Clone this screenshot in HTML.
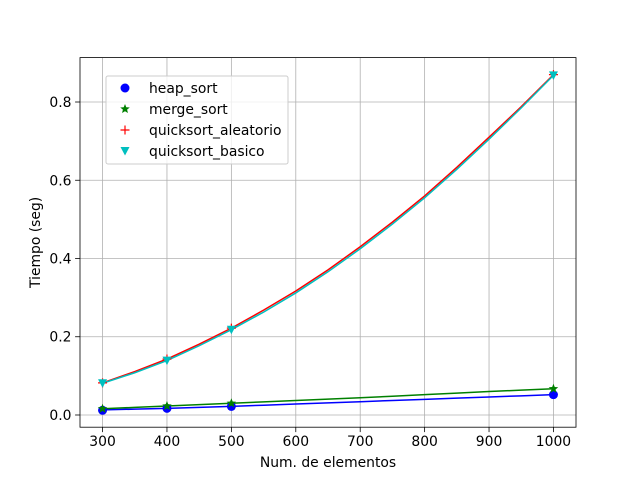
<!DOCTYPE html>
<html><head><meta charset="utf-8"><style>
body{margin:0;background:#fff;}
svg{font-family:"DejaVu Sans","Liberation Sans",sans-serif;}
</style></head><body>
<svg id="chart" width="640" height="480" xmlns="http://www.w3.org/2000/svg"></svg>
<script>
const xTicks=[300,400,500,600,700,800,900,1000];
const yTicks=[0.0,0.2,0.4,0.6,0.8];
const yTickLabels=["0.0","0.2","0.4","0.6","0.8"];
const markerX=[300,400,500,1000];
const heapPts=[0.012,0.017,0.022,0.052];
const mergePts=[0.016,0.023,0.030,0.067];
const qaPts=[0.082,0.143,0.222,0.870];
const qbPts=[0.081,0.139,0.218,0.868];
const lineX=[300,350,400,450,500,550,600,650,700,750,800,850,900,950,1000];
const heapLine=[0.013,0.015,0.017,0.0195,0.022,0.025,0.028,0.031,0.034,0.037,0.040,0.043,0.046,0.049,0.052];
const mergeLine=[0.016,0.0195,0.023,0.0265,0.030,0.0335,0.037,0.0405,0.044,0.048,0.052,0.056,0.060,0.0635,0.067];
const qaLine=[0.082,0.111,0.143,0.181,0.222,0.268,0.317,0.371,0.430,0.493,0.560,0.633,0.710,0.788,0.870];
const qbLine=[0.081,0.108,0.139,0.177,0.218,0.263,0.312,0.366,0.425,0.488,0.555,0.628,0.705,0.785,0.868];

const L=80,R=576,T=57.6,B=427.2;
const xMin=265,xMax=1035,yMin=-0.0312,yMax=0.9135;
const sx=v=>L+(v-xMin)/(xMax-xMin)*(R-L);
const sy=v=>B-(v-yMin)/(yMax-yMin)*(B-T);
const svg=document.getElementById('chart');
const NS="http://www.w3.org/2000/svg";
const FS=13.9;
function mk(tag,attrs,parent){const e=document.createElementNS(NS,tag);for(const k in attrs)e.setAttribute(k,attrs[k]);(parent||svg).appendChild(e);return e;}

xTicks.forEach(t=>{
  const g=mk('line',{x1:sx(t),x2:sx(t),y1:T,y2:B,stroke:'#b0b0b0','stroke-width':0.8});
  
  
  const tk=mk('line',{x1:sx(t),x2:sx(t),y1:B,y2:B+4.9,stroke:'#000','stroke-width':0.8});
  
  
  const tx=mk('text',{x:sx(t),y:B+19,'text-anchor':'middle','font-size':FS});
  tx.textContent=t;
  
  
});
yTicks.forEach((t,i)=>{
  const g=mk('line',{x1:L,x2:R,y1:sy(t),y2:sy(t),stroke:'#b0b0b0','stroke-width':0.8});
  
  
  const tk=mk('line',{x1:L-4.9,x2:L,y1:sy(t),y2:sy(t),stroke:'#000','stroke-width':0.8});
  
  
  const tx=mk('text',{x:L-8.5,y:sy(t)+5,'text-anchor':'end','font-size':FS});
  tx.textContent=yTickLabels[i];
  
  
});

function drawLine(vals,color,name){
  const p=mk('polyline',{points:lineX.map((x,i)=>sx(x)+','+sy(vals[i])).join(' '),fill:'none',stroke:color,'stroke-width':1.5});
  
  
}
function marker(type,cx,cy,color){
  let e;
  if(type==='o') e=mk('circle',{cx:cx,cy:cy,r:4.5,fill:color});
  else if(type==='*'){
    let pts=[];for(let k=0;k<10;k++){const a=-Math.PI/2+k*Math.PI/5;const r=k%2?2.2:5;pts.push((cx+r*Math.cos(a))+','+(cy+r*Math.sin(a)));}
    e=mk('polygon',{points:pts.join(' '),fill:color});
  } else if(type==='+') e=mk('path',{d:`M${cx-4.5},${cy}H${cx+4.5}M${cx},${cy-4.5}V${cy+4.5}`,stroke:color,'stroke-width':1.2});
  else e=mk('polygon',{points:`${cx-4.5},${cy-4} ${cx+4.5},${cy-4} ${cx},${cy+4.5}`,fill:color});
  return e;
}
function drawPts(vals,type,color,name){
  markerX.forEach((x,i)=>{
    const e=marker(type,sx(x),sy(vals[i]),color);
    
    
  });
}
drawLine(heapLine,'#0000ff','heap-sort-line');
drawLine(mergeLine,'#008000','merge-sort-line');
drawLine(qaLine,'#ff0000','quicksort-aleatorio-line');
drawLine(qbLine,'#00bfbf','quicksort-basico-line');
drawPts(heapPts,'o','#0000ff','heap-sort-point');
drawPts(mergePts,'*','#008000','merge-sort-point');
drawPts(qaPts,'+','#ff0000','quicksort-aleatorio-point');
drawPts(qbPts,'v','#00bfbf','quicksort-basico-point');

const frame=mk('rect',{x:L,y:T,width:R-L,height:B-T,fill:'none',stroke:'#000','stroke-width':0.8});



const xl=mk('text',{x:(L+R)/2,y:467,'text-anchor':'middle','font-size':FS});
xl.textContent='Num. de elementos';


const yl=mk('text',{x:0,y:0,'text-anchor':'middle','font-size':FS,transform:`translate(40,${(T+B)/2}) rotate(-90)`});
yl.textContent='Tiempo (seg)';



const lg=mk('g',{});


mk('rect',{x:106,y:76,width:182,height:88,rx:2,fill:'#fff','fill-opacity':0.8,stroke:'#ccc','stroke-width':1},lg);
const names=['heap_sort','merge_sort','quicksort_aleatorio','quicksort_basico'];
const types=['o','*','+','v'];
const colors=['#0000ff','#008000','#ff0000','#00bfbf'];
names.forEach((n,i)=>{
  const y=88+i*21;
  const m=marker(types[i],125,y,colors[i]);
  
  
  const t=mk('text',{x:149,y:y+5,'font-size':FS});
  t.textContent=n;
  
  
});
</script>
</body></html>
